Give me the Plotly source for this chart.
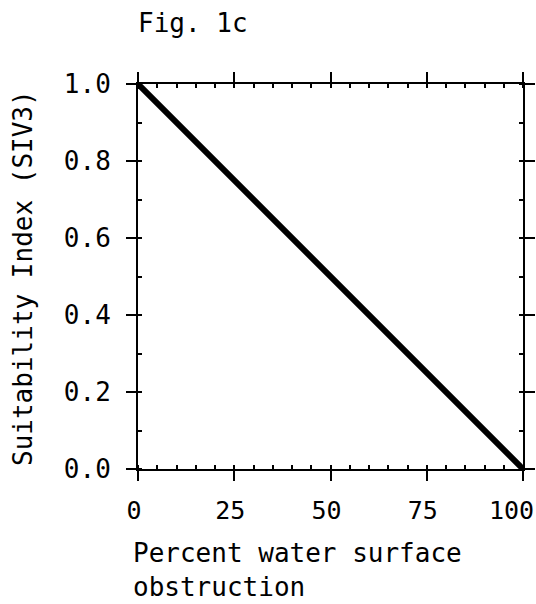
import plotly.graph_objects as go

# Data
obstruction_pct = [0, 100]
siv3 = [1.0, 0.0]
x_ticks = [0, 25, 50, 75, 100]
x_tick_labels = ["0", "25", "50", "75", "100\u00a0"]
y_ticks = [0.0, 0.2, 0.4, 0.6, 0.8, 1.0]

W, H = 536, 604
L, R, T, B = 138, 523, 84, 469
PW, PH = R - L, B - T

def px(xp):
    return (xp - L) / PW

def py(yp):
    return (B - yp) / PH

FONT = "DejaVu Sans Mono"
FS = 26

fig = go.Figure()
fig.add_trace(go.Scatter(
    x=obstruction_pct, y=siv3, mode="lines",
    line=dict(color="black", width=6),
    cliponaxis=False, showlegend=False, hoverinfo="skip",
))

axis_common = dict(
    showline=True, linecolor="black", linewidth=2, mirror="allticks",
    ticks="outside", ticklen=10, tickwidth=2, tickcolor="black",
    showgrid=False, zeroline=False, automargin=False,
    ticklabeloverflow="allow",
)

fig.update_xaxes(
    range=[0, 100], tickvals=x_ticks, ticktext=x_tick_labels,
    minor=dict(dtick=5, ticks="inside", ticklen=4, tickwidth=2, tickcolor="black", showgrid=False),
    ticklabelstandoff=8, ticklabelshift=-4,
    tickfont=dict(family=FONT, size=25, color="black"),
    **axis_common,
)
fig.update_yaxes(
    range=[0, 1], tickvals=y_ticks, ticktext=[f"{v:.1f}" for v in y_ticks],
    minor=dict(dtick=0.1, ticks="inside", ticklen=4, tickwidth=2, tickcolor="black", showgrid=False),
    ticklabelstandoff=10,
    tickfont=dict(family=FONT, size=FS, color="black"),
    **axis_common,
)

fig.add_annotation(
    text="Percent water surface<br>obstruction", xref="paper", yref="paper",
    x=px(131), y=py(536), xanchor="left", yanchor="top", align="left",
    showarrow=False, font=dict(family=FONT, size=FS, color="black"),
)
fig.add_annotation(
    text="Suitability Index (SIV3)", xref="paper", yref="paper",
    x=px(23), y=py(278), xanchor="center", yanchor="middle", textangle=-90,
    showarrow=False, font=dict(family=FONT, size=FS, color="black"),
)
fig.add_annotation(
    text="Fig. 1c", xref="paper", yref="paper",
    x=px(136), y=py(23), xanchor="left", yanchor="middle",
    showarrow=False, font=dict(family=FONT, size=FS, color="black"),
)

fig.update_layout(
    width=W, height=H,
    margin=dict(l=L, r=W - R, t=T, b=H - B, pad=0, autoexpand=False),
    paper_bgcolor="white", plot_bgcolor="white",
    font=dict(family=FONT, size=FS, color="black"),
)

fig.write_html("out.html")
